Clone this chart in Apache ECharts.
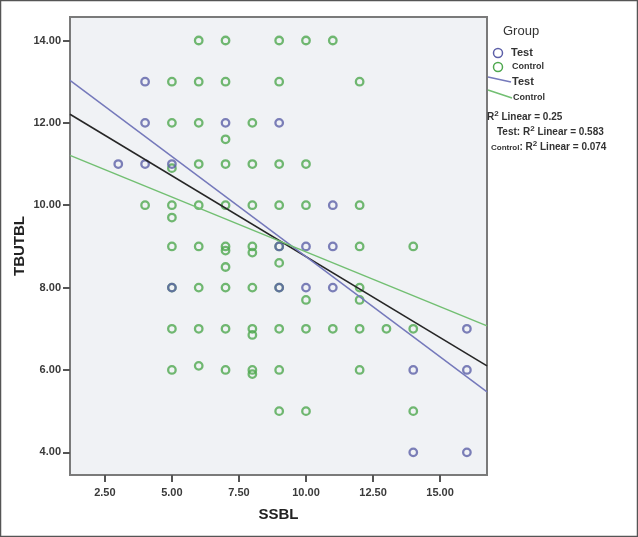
<!DOCTYPE html>
<html>
<head>
<meta charset="utf-8">
<script src="https://cdn.jsdelivr.net/npm/echarts@6/dist/echarts.min.js"></script>
<style>
  html, body { margin: 0; padding: 0; background: #fff; }
  #chart { width: 638px; height: 537px; }
</style>
</head>
<body>
<div id="chart"></div>
<script>
// SSBL (x) vs TBUTBL (y)
const testPoints = [
  [4, 13], [4, 12], [7, 12], [9, 12], [3, 11], [4, 11], [5, 11],
  [11, 10], [10, 9], [11, 9], [9, 9], [10, 8], [11, 8], [5, 8], [9, 8],
  [16, 7], [14, 6], [16, 6], [14, 4], [16, 4]
]
const controlPoints = [
  [6, 14], [7, 14], [9, 14], [10, 14], [11, 14],
  [5, 13], [6, 13], [7, 13], [9, 13], [12, 13],
  [5, 12], [6, 12], [8, 12], [7, 11.6],
  [5, 10.9], [6, 11], [7, 11], [8, 11], [9, 11], [10, 11],
  [4, 10], [5, 10], [6, 10], [7, 10], [8, 10], [9, 10], [10, 10], [12, 10], [5, 9.7],
  [5, 9], [6, 9], [7, 9], [7, 8.9], [8, 9], [8, 8.85], [9, 9], [12, 9], [14, 9], [7, 8.5], [9, 8.6],
  [5, 8], [6, 8], [7, 8], [8, 8], [9, 8], [12, 8], [10, 7.7], [12, 7.7],
  [5, 7], [6, 7], [7, 7], [8, 7], [8, 6.85], [9, 7], [10, 7], [11, 7], [12, 7], [13, 7], [14, 7],
  [5, 6], [6, 6.1], [7, 6], [8, 6], [8, 5.9], [9, 6], [12, 6],
  [9, 5], [10, 5], [14, 5]
]
// fit lines, end points read at the plot edges
const totalFit = [[1.2, 12.21], [16.75, 6.10]]
const testFit = [[1.2, 13.03], [16.75, 5.47]]
const controlFit = [[1.2, 11.21], [16.75, 7.07]]

const xTicks = [2.5, 5, 7.5, 10, 12.5, 15]
const yTicks = [4, 6, 8, 10, 12, 14]

const testColor = '#5d60a8'
const controlColor = '#4fa84f'

let chart = echarts.init(document.getElementById('chart'))

let tickLabel = {
  fontFamily: 'Liberation Sans, Arial',
  fontSize: 11,
  fontWeight: 'bold',
  color: '#3a3a3a',
  formatter: v => Number(v).toFixed(2)
}

chart.setOption({
  animation: false,
  grid: {
    left: 70, right: 151, top: 17, bottom: 62,
    show: true,
    backgroundColor: '#f0f2f5',
    borderColor: '#7a7a7a',
    borderWidth: 2
  },
  xAxis: {
    type: 'value',
    min: 1.2,
    max: 16.75,
    name: 'SSBL',
    nameLocation: 'middle',
    nameGap: 32,
    nameTextStyle: { fontFamily: 'Liberation Sans, Arial', fontSize: 15, fontWeight: 'bold', color: '#222' },
    axisLine: { show: false },
    splitLine: { show: false },
    axisTick: { show: true, customValues: xTicks, length: 7, lineStyle: { color: '#555', width: 2 } },
    axisLabel: Object.assign({ customValues: xTicks, margin: 12 }, tickLabel)
  },
  yAxis: {
    type: 'value',
    min: 3.45,
    max: 14.57,
    name: 'TBUTBL',
    nameLocation: 'middle',
    nameGap: 43,
    nameMoveOverlap: false,
    nameTextStyle: { fontFamily: 'Liberation Sans, Arial', fontSize: 15, fontWeight: 'bold', color: '#222' },
    axisLine: { show: false },
    splitLine: { show: false },
    axisTick: { show: true, customValues: yTicks, length: 7, lineStyle: { color: '#555', width: 2 } },
    axisLabel: Object.assign({ customValues: yTicks, margin: 9 }, tickLabel)
  },
  series: [
    {
      name: 'Control',
      type: 'scatter',
      symbol: 'circle',
      symbolSize: 7.5,
      data: controlPoints,
      itemStyle: { color: 'rgba(0,0,0,0)', borderColor: controlColor, borderWidth: 2.3, opacity: 0.8 }
    },
    {
      name: 'Test',
      type: 'scatter',
      symbol: 'circle',
      symbolSize: 7.5,
      data: testPoints,
      itemStyle: { color: 'rgba(0,0,0,0)', borderColor: testColor, borderWidth: 2.3, opacity: 0.8 }
    },
    {
      name: 'Total fit',
      type: 'line',
      data: totalFit,
      symbol: 'none',
      lineStyle: { color: '#262626', width: 1.6 }
    },
    {
      name: 'Test fit',
      type: 'line',
      data: testFit,
      symbol: 'none',
      lineStyle: { color: '#7579bb', width: 1.5 }
    },
    {
      name: 'Control fit',
      type: 'line',
      data: controlFit,
      symbol: 'none',
      lineStyle: { color: '#72bf72', width: 1.5 }
    }
  ],
  graphic: [
    // outer frame of the figure
    { type: 'rect', shape: { x: 0.5, y: 0.5, width: 637, height: 536 }, style: { fill: null, stroke: '#555', lineWidth: 1.5 } },
    // legend
    { type: 'text', left: 503, top: 25, style: { text: 'Group', font: '13px Liberation Sans, Arial', fill: '#333' } },
    { type: 'circle', shape: { cx: 498, cy: 53, r: 4.5 }, style: { fill: null, stroke: testColor, lineWidth: 1.5 } },
    { type: 'text', left: 511, top: 47, style: { text: 'Test', font: 'bold 11px Liberation Sans, Arial', fill: '#333' } },
    { type: 'circle', shape: { cx: 498, cy: 67, r: 4.5 }, style: { fill: null, stroke: controlColor, lineWidth: 1.5 } },
    { type: 'text', left: 512, top: 62, style: { text: 'Control', font: 'bold 9px Liberation Sans, Arial', fill: '#333' } },
    { type: 'line', shape: { x1: 488, y1: 77, x2: 511, y2: 82 }, style: { stroke: '#7579bb', lineWidth: 1.5 } },
    { type: 'text', left: 512, top: 76, style: { text: 'Test', font: 'bold 11px Liberation Sans, Arial', fill: '#333' } },
    { type: 'line', shape: { x1: 488, y1: 90, x2: 512, y2: 98 }, style: { stroke: '#72bf72', lineWidth: 1.5 } },
    { type: 'text', left: 513, top: 93, style: { text: 'Control', font: 'bold 9px Liberation Sans, Arial', fill: '#333' } },
    {
      type: 'text', left: 487, top: 110,
      style: {
        text: '{a|R}{s|2}{a| Linear = 0.25}',
        rich: {
          a: { fontFamily: 'Liberation Sans, Arial', fontSize: 10, fontWeight: 'bold', fill: '#333', verticalAlign: 'bottom' },
          s: { fontFamily: 'Liberation Sans, Arial', fontSize: 8, fontWeight: 'bold', fill: '#333', verticalAlign: 'top', padding: [0, 0, 4, 0] }
        }
      }
    },
    {
      type: 'text', left: 497, top: 125,
      style: {
        text: '{a|Test: R}{s|2}{a| Linear = 0.583}',
        rich: {
          a: { fontFamily: 'Liberation Sans, Arial', fontSize: 10, fontWeight: 'bold', fill: '#333', verticalAlign: 'bottom' },
          s: { fontFamily: 'Liberation Sans, Arial', fontSize: 8, fontWeight: 'bold', fill: '#333', verticalAlign: 'top', padding: [0, 0, 4, 0] }
        }
      }
    },
    {
      type: 'text', left: 491, top: 140,
      style: {
        text: '{c|Control}{a|: R}{s|2}{a| Linear = 0.074}',
        rich: {
          c: { fontFamily: 'Liberation Sans, Arial', fontSize: 8, fontWeight: 'bold', fill: '#333', verticalAlign: 'bottom' },
          a: { fontFamily: 'Liberation Sans, Arial', fontSize: 10, fontWeight: 'bold', fill: '#333', verticalAlign: 'bottom' },
          s: { fontFamily: 'Liberation Sans, Arial', fontSize: 8, fontWeight: 'bold', fill: '#333', verticalAlign: 'top', padding: [0, 0, 4, 0] }
        }
      }
    }
  ]
})
</script>
</body>
</html>
